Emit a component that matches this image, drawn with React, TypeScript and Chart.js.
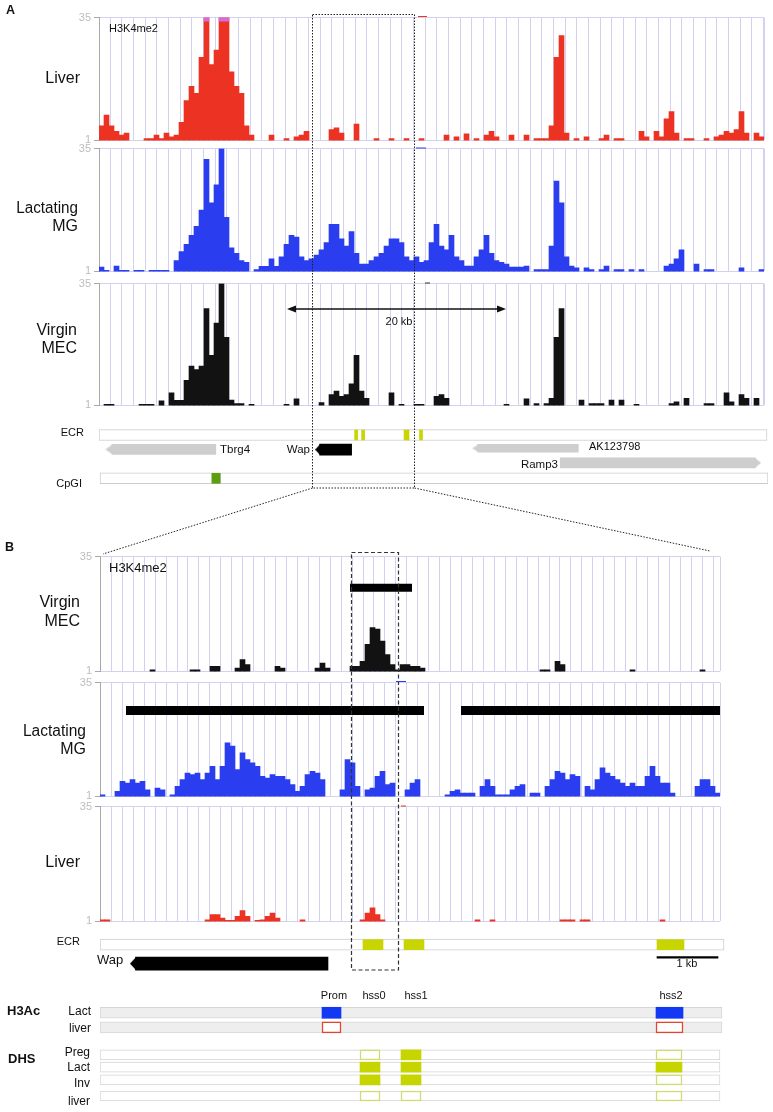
import React, { useEffect, useRef } from 'react';
import { Chart, registerables } from 'chart.js';

Chart.register(...registerables);

type Num = number | null;

const W = 773;
const H = 1112;
const FONT = '"Liberation Sans", Arial, Helvetica, sans-serif';

/* ---------- H3K4me2 signal, panel A (133 genomic bins) ---------- */
const LIVER_A: Num[] = [
  5, 8, 5, 3.5, 2.5, 3, null, null, null, 1.5,
  1.5, 2.5, 1.5, 3, 2, 2.5, 6, 12, 16, 14,
  24, 35, 22, 26, 35, 35, 20, 16, 14, 5,
  2.5, null, null, null, 2.5, null, null, 1.5, null, 2,
  2.5, 3.5, null, null, null, null, 4, 4.5, 3, null,
  null, 5.5, null, null, null, 1.5, null, null, 1.5, null,
  null, 1.5, null, null, 1.5, null, null, null, null, 2.5,
  null, 2, null, 2.8, null, 1.5, null, 2.5, 3.5, 2,
  null, null, 2.5, null, null, 2.5, null, 1.5, 1.5, 1.5,
  5, 24, 30, 3, null, 1.5, null, 2, null, null,
  1.5, 2.5, null, 1.5, 1.5, null, null, null, 3.5, 2,
  null, 3.5, 2, 7, 9, 3, null, 1.5, 1.5, null,
  null, 1.5, null, 2, 2.5, 3.5, 3, 4, 9, 3,
  null, 3, 2,
];
const LACT_A: Num[] = [
  2.2, 1.3, null, 2.5, 1.3, 1.3, null, 1.3, 1.3, null,
  1.3, 1.3, 1.3, 1.3, null, 4, 6.5, 8.5, 11, 13.5,
  18, 32, 20, 25, 35, 16, 7.5, 6, 4, 3.5,
  null, 1.5, 2.4, 2.4, 4.5, 2.4, 5, 8.5, 11, 10.5,
  5, 4, 4.5, 5.5, 7, 9, 14, 14, 10, 8,
  12, 6, 3, 3, 4, 5, 6, 8, 10, 10,
  9, 5, 4, 5, 3.5, 4, 9, 14, 8, 7,
  11, 5, 4, 2.5, 2.5, 5, 7, 11, 6, 4,
  3.5, 3, 2.2, 2.2, 2.2, 2.5, null, 1.5, 1.5, 1.5,
  8, 26, 20, 5, 2.5, 2, null, 2, 1.5, null,
  1.5, 2.5, null, 1.5, 1.5, null, 1.5, null, 1.5, null,
  null, null, null, 2.5, 3, 4.5, 7, null, null, 3,
  null, 1.5, 1.5, null, null, null, null, null, 2, null,
  null, null, 1.5,
];
const VIRGIN_A: Num[] = [
  null, 1.3, 1.3, null, null, null, null, null, 1.3, 1.3,
  1.3, null, 2.3, null, 4.5, 2.4, 2.4, 8, 12, 11,
  12, 28, 15, 24, 35, 20, 2.5, 1.5, 1.5, null,
  1.3, null, null, null, null, null, null, 1.3, null, 2.8,
  null, null, null, null, 1.8, null, 4, 5, 3.5, 4,
  7, 15, 5, 3, null, null, null, null, 4.5, null,
  1.3, null, null, 1.3, 1.3, null, null, 3.5, 4, 3,
  null, null, null, null, null, null, null, null, null, null,
  null, 1.3, null, null, null, 2.8, null, 1.5, null, 1.5,
  3, 20, 28, null, null, null, 2.5, null, 1.5, 1.5,
  1.5, null, 2.5, null, 2.5, null, null, 1.3, null, null,
  null, null, null, null, 1.5, 2, null, 3, null, null,
  null, 1.5, 1.5, null, null, 4.5, 2, null, 4, 3,
  null, 3, null,
];

/* ---------- H3K4me2 signal, panel B (124 genomic bins) ---------- */
const VIRGIN_B: Num[] = [
  null, null, null, null, null, null, null, null, null, null,
  1.5, null, null, null, null, null, null, null, 1.5, 1.5,
  null, null, 2.5, 2.5, null, null, null, 2, 4.5, 3,
  null, null, null, null, null, 2.5, 2, null, null, null,
  null, null, null, 2, 3.5, 2, null, null, null, null,
  2.5, 2.5, 4, 9, 14, 13.5, 10, 6, 3, 1.5,
  3, 3, 2.5, 2.5, 2, null, null, null, null, null,
  null, null, null, null, null, null, null, null, null, null,
  null, null, null, null, null, null, null, null, 1.5, 1.5,
  null, 4, 3, null, null, null, null, null, null, null,
  null, null, null, null, null, null, 1.5, null, null, null,
  null, null, null, null, null, null, null, null, null, null,
  1.5, null, null, null,
];
const LACT_B: Num[] = [
  1.5, null, null, 2.5, 5.5, 5, 6, 5, 5.5, 3,
  null, 3.5, 3, null, 1.5, 4, 6, 8, 7.5, 8,
  6, 8, 10, 6, 10, 17, 16, 9, 14, 12,
  11, 10, 7, 6.5, 7.5, 7, 7, 6, 4.5, 2.5,
  4, 7.5, 8.5, 8, 6, null, null, null, 3, 12,
  11, 4, null, 3, 3.5, 7, 8.5, 4.5, 5, null,
  null, 3, 5, 6, null, null, null, null, null, 1.5,
  2.5, 3, 2, 2, 2, null, 4, 6, 4, 1.5,
  1.5, 1.5, 3, 4, 4.5, null, 2, 2, null, 4,
  6, 8.5, 8, 6, 7.5, 7, null, 4, 3, 6,
  9.5, 8, 7, 6, 5, 4, 5, 4, 4, 7,
  10, 7, 5, 5, 2, null, null, null, null, 4,
  6, 6, 4, 2,
];
const LIVER_B: Num[] = [
  1.5, 1.5, null, null, null, null, null, null, null, null,
  null, null, null, null, null, null, null, null, null, null,
  null, 1.5, 3, 3, 2, 1.3, 1.3, 2.5, 4.2, 2.5,
  null, 1.3, 1.5, 2.5, 3.5, 2, null, null, null, null,
  1.5, null, null, null, null, null, null, null, null, null,
  null, null, 1.5, 3.5, 5, 3, 1.5, null, null, null,
  null, null, null, null, null, null, null, null, null, null,
  null, null, null, null, null, 1.5, null, null, 1.5, null,
  null, null, null, null, null, null, null, null, null, null,
  null, null, 1.5, 1.5, 1.5, null, 1.5, 1.5, null, null,
  null, null, null, null, null, null, null, null, null, null,
  null, null, 1.5, null, null, null, null, null, null, null,
  null, null, null, null,
];

const Y_TICKS = [1, 35];
const PEAKS_VIRGIN_B = [[50, 62.4]];
const PEAKS_LACT_B = [[5.2, 64.8], [72.2, 124]];

/* ---------- annotation, panel A (bins) ---------- */
const ECR_A = [[51.2, 51.8], [52.6, 53.2], [61.1, 62.1], [64.2, 64.8]];
const CPGI_A = [[22.6, 24.3]];
const GENE_NAMES_A = ['Tbrg4', 'Wap', 'AK123798', 'Ramp3'];
const GENE_START_A = [1.3, 43.3, 74.8, 92.4];
const GENE_END_A = [23.4, 50.6, 96.0, 132.6];
const GENE_STRAND_A = ['-', '-', '-', '+'];

/* ---------- annotation, panel B (bins) ---------- */
const ECR_B = [[52.6, 56.6], [60.8, 64.8], [111.4, 116.8]];
const WAP_B = { start: 6.0, end: 45.6, strand: '-' };
const SCALE_1KB_B = [111.4, 123.6];
const H3AC_SITES = ['Prom', 'hss2'];
const H3AC_POS = [[44.4, 48.2], [111.2, 116.6]];
const H3AC_LACT = [true, true];
const H3AC_LIVER = [false, false];
const DHS_SITES = ['hss0', 'hss1', 'hss2'];
const DHS_POS = [[52.0, 56.0], [60.2, 64.2], [111.2, 116.4]];
const DHS_PREG = [false, true, false];
const DHS_LACT = [true, true, true];
const DHS_INV = [true, true, false];
const DHS_LIVER = [false, false, false];

/* ---------- styling / layout ---------- */
const RED = '#ec3323';
const BLUE = '#2a3ef0';
const BLACK = '#121212';
const MAGENTA = '#d86ad8';
const ECR_GREEN = '#c8d500';
const CPG_GREEN = '#5e9c14';
const GENE_GREY = '#cecece';
const GRID_COLOR = '#d2d2f0';
const ROW_BORDER = '#cccccc';
const H3_BLUE = '#1238f4';
const H3_RED = '#e8432c';
const DHS_FILL = '#c6d400';
const DHS_LINE = '#d2db72';

const BIN_PX = 5;
const A_LEFT = 99;
const B_LEFT = 100;
const N_A = 133;
const N_B = 124;
const PAD = 8;

const TRACKS = [
  { id: 'liverA', values: LIVER_A, color: RED, panel: 'A', top: 16, bottom: 142, caps: true },
  { id: 'lactA', values: LACT_A, color: BLUE, panel: 'A', top: 147, bottom: 273 },
  { id: 'virginA', values: VIRGIN_A, color: BLACK, panel: 'A', top: 282, bottom: 407 },
  { id: 'virginB', values: VIRGIN_B, color: BLACK, panel: 'B', top: 555, bottom: 673, peaks: PEAKS_VIRGIN_B, peakLevel: 25.8, peakW: 8 },
  { id: 'lactB', values: LACT_B, color: BLUE, panel: 'B', top: 681, bottom: 798, peaks: PEAKS_LACT_B, peakLevel: 26.7, peakW: 9 },
  { id: 'liverB', values: LIVER_B, color: RED, panel: 'B', top: 805, bottom: 923 },
];

const ANNOT_A = { top: 421, bottom: 491, n: 134 };
const ANNOT_B = { top: 925, bottom: 1110, n: 125 };

type Lab = { t: string; x: number; y: number; s: number; a?: 'l' | 'r' | 'c'; b?: boolean; sx?: number };
const LABELS: Lab[] = [
  { t: 'A', x: 6, y: 10, s: 12.5, b: true },
  { t: 'H3K4me2', x: 109, y: 28, s: 11 },
  { t: 'Liver', x: 80, y: 77.5, s: 16, a: 'r' },
  { t: 'Lactating', x: 78, y: 208, s: 16, a: 'r', sx: 0.95 },
  { t: 'MG', x: 78, y: 226, s: 16, a: 'r' },
  { t: 'Virgin', x: 77, y: 330, s: 16, a: 'r' },
  { t: 'MEC', x: 77, y: 348, s: 16, a: 'r' },
  { t: '20 kb', x: 399, y: 321, s: 11, a: 'c' },
  { t: 'ECR', x: 84, y: 432, s: 11, a: 'r' },
  { t: GENE_NAMES_A[0], x: 220, y: 450, s: 11.5 },
  { t: GENE_NAMES_A[1], x: 310, y: 450, s: 11.5, a: 'r' },
  { t: GENE_NAMES_A[2], x: 589, y: 446, s: 11 },
  { t: GENE_NAMES_A[3], x: 558, y: 465, s: 11.5, a: 'r' },
  { t: 'CpGI', x: 82, y: 482.5, s: 11, a: 'r' },
  { t: 'B', x: 5, y: 547, s: 12.5, b: true },
  { t: 'H3K4me2', x: 109, y: 567, s: 13 },
  { t: 'Virgin', x: 80, y: 602, s: 16, a: 'r' },
  { t: 'MEC', x: 80, y: 621, s: 16, a: 'r' },
  { t: 'Lactating', x: 86, y: 731, s: 16, a: 'r', sx: 0.97 },
  { t: 'MG', x: 86, y: 749, s: 16, a: 'r' },
  { t: 'Liver', x: 80, y: 862, s: 16, a: 'r' },
  { t: 'ECR', x: 80, y: 941, s: 11, a: 'r' },
  { t: 'Wap', x: 97, y: 959, s: 13 },
  { t: '1 kb', x: 687, y: 963, s: 11, a: 'c' },
  { t: H3AC_SITES[0], x: 334, y: 995, s: 11, a: 'c' },
  { t: DHS_SITES[0], x: 374, y: 995, s: 11, a: 'c' },
  { t: DHS_SITES[1], x: 416, y: 995, s: 11, a: 'c' },
  { t: DHS_SITES[2], x: 671, y: 995, s: 11, a: 'c' },
  { t: 'H3Ac', x: 7, y: 1010, s: 13, b: true },
  { t: 'Lact', x: 91, y: 1011, s: 12, a: 'r' },
  { t: 'liver', x: 91, y: 1028, s: 12, a: 'r' },
  { t: 'DHS', x: 8, y: 1058, s: 13, b: true },
  { t: 'Preg', x: 90, y: 1052, s: 12, a: 'r' },
  { t: 'Lact', x: 90, y: 1067, s: 12, a: 'r' },
  { t: 'Inv', x: 90, y: 1083, s: 12, a: 'r' },
  { t: 'liver', x: 90, y: 1101, s: 12, a: 'r' },
];

function gridTicks(first: number, step: number, count: number, end: number) {
  const out: number[] = [];
  for (let k = 0; k < count; k++) out.push(first + k * step);
  out.push(end);
  return out;
}

function toPoints(vals: Num[]) {
  const out: { x: number; y: number }[] = [];
  vals.forEach((v, i) => {
    if (v != null) out.push({ x: i + 0.5, y: v });
  });
  return out;
}

const baseOpts = {
  animation: false,
  responsive: false,
  events: [],
  plugins: { legend: { display: false }, tooltip: { enabled: false } },
};

function makeTrack(canvas: HTMLCanvasElement, t: any) {
  const isA = t.panel === 'A';
  const left = isA ? A_LEFT : B_LEFT;
  const n = isA ? N_A : N_B;
  const grid = isA ? gridTicks(2.2, 2.334, 57, N_A) : gridTicks(2.28, 2.188, 56, N_B);
  const datasets: any[] = [];
  if (t.caps) {
    const caps: any[] = [];
    t.values.forEach((v: Num, i: number) => {
      if (v != null && v >= 35) caps.push({ x: i + 0.5, y: [34, 35] });
    });
    datasets.push({ type: 'bar', data: caps, backgroundColor: MAGENTA, barThickness: BIN_PX, grouped: false, order: 0 });
  }
  (t.peaks || []).forEach((p: number[]) => {
    datasets.push({
      type: 'line',
      data: [{ x: p[0], y: t.peakLevel }, { x: p[1], y: t.peakLevel }],
      borderColor: '#000',
      borderWidth: t.peakW,
      borderCapStyle: 'butt',
      pointRadius: 0,
      fill: false,
      order: 0,
    });
  });
  datasets.push({
    type: 'bar',
    data: toPoints(t.values),
    backgroundColor: t.color,
    borderWidth: 0,
    barThickness: BIN_PX,
    grouped: false,
    order: 1,
  });
  return new Chart(canvas, {
    type: 'bar',
    data: { datasets },
    options: {
      ...baseOpts,
      layout: { padding: { left: left - 30, right: W - (left + n * BIN_PX), top: PAD, bottom: PAD } },
      scales: {
        x: {
          type: 'linear',
          min: 0,
          max: n,
          offset: false,
          ticks: { display: false },
          grid: { color: GRID_COLOR, drawTicks: false, lineWidth: 1, offset: false },
          border: { display: false },
          afterBuildTicks: (ax: any) => {
            ax.ticks = grid.map((v) => ({ value: v }));
          },
          afterFit: (ax: any) => {
            ax.height = 0;
          },
        },
        y: {
          type: 'linear',
          min: 1,
          max: 35,
          beginAtZero: false,
          afterBuildTicks: (ax: any) => {
            ax.ticks = Y_TICKS.map((v) => ({ value: v }));
          },
          ticks: { color: '#bdbdbd', font: { family: FONT, size: 11 }, padding: 3 },
          grid: { color: GRID_COLOR, tickColor: '#a8a8a8', tickLength: 5, lineWidth: 1 },
          border: { color: '#a8a8a8', width: 1 },
          afterFit: (ax: any) => {
            ax.width = 30;
          },
        },
      },
    } as any,
  });
}

function hbar(ranges: number[][], row: number, opts: any) {
  return {
    type: 'bar',
    indexAxis: 'y',
    grouped: false,
    borderSkipped: false,
    borderWidth: 0,
    data: ranges.map((r) => ({ x: [r[0], r[1]], y: row })),
    ...opts,
  };
}

function tipImage(w: number, h: number, color: string, left: boolean) {
  const c = document.createElement('canvas');
  c.width = Math.ceil(w);
  c.height = Math.ceil(h);
  const g = c.getContext('2d');
  if (g) {
    g.fillStyle = color;
    g.beginPath();
    if (left) {
      g.moveTo(0, h / 2);
      g.lineTo(w, 0);
      g.lineTo(w, h);
    } else {
      g.moveTo(w, h / 2);
      g.lineTo(0, 0);
      g.lineTo(0, h);
    }
    g.closePath();
    g.fill();
  }
  return c;
}

function gene(start: number, end: number, strand: string, row: number, h: number, tipPx: number, color: string) {
  const tipU = tipPx / BIN_PX;
  const left = strand === '-';
  const body = left ? [start + tipU - 0.1, end] : [start, end - tipU + 0.1];
  const tipX = left ? start + tipU / 2 : end - tipU / 2;
  return {
    body: hbar([body], row, { backgroundColor: color, barThickness: h, order: 1 }),
    tip: { x: tipX, y: row, img: tipImage(tipPx, h, color, left) },
  };
}

function tipsDataset(tips: any[]) {
  return {
    type: 'scatter',
    data: tips.map((t) => ({ x: t.x, y: t.y })),
    pointStyle: tips.map((t) => t.img),
    pointRadius: 4,
    pointHoverRadius: 4,
    order: 0,
  };
}

function annotChart(canvas: HTMLCanvasElement, left: number, n: number, height: number, datasets: any[]) {
  return new Chart(canvas, {
    type: 'bar',
    data: { datasets },
    options: {
      ...baseOpts,
      layout: { padding: { left, right: W - (left + n * BIN_PX), top: 0, bottom: 0 } },
      scales: {
        x: { type: 'linear', min: 0, max: n, display: false, offset: false, beginAtZero: false },
        y: { type: 'linear', min: 0, max: height, reverse: true, display: false, offset: false, beginAtZero: false },
      },
    } as any,
  });
}

function makeAnnotA(canvas: HTMLCanvasElement) {
  const rowEcr = 10.5;
  const rowCpg = 61;
  const geneRows = [27.3, 27.5, 26, 43];
  const geneH = [10, 11, 8, 10];
  const geneTip = [7, 5, 6, 6];
  const geneColor = [GENE_GREY, '#000000', GENE_GREY, GENE_GREY];
  const ds: any[] = [];
  const tips: any[] = [];
  ds.push(hbar(ECR_A, rowEcr, { backgroundColor: ECR_GREEN, barThickness: 10, order: 0 }));
  ds.push(hbar(CPGI_A, rowCpg, { backgroundColor: CPG_GREEN, barThickness: 10, order: 0 }));
  GENE_NAMES_A.forEach((_, i) => {
    const g = gene(GENE_START_A[i], GENE_END_A[i], GENE_STRAND_A[i], geneRows[i], geneH[i], geneTip[i], geneColor[i]);
    ds.push(g.body);
    tips.push(g.tip);
  });
  ds.push(tipsDataset(tips));
  ds.push(hbar([[0, 133.8]], rowEcr, { backgroundColor: '#ffffff', borderColor: ROW_BORDER, borderWidth: 1, barThickness: 11, order: 5 }));
  ds.push(hbar([[0.2, 134]], rowCpg, { backgroundColor: '#ffffff', borderColor: ROW_BORDER, borderWidth: 1, barThickness: 11, order: 5 }));
  return annotChart(canvas, A_LEFT, ANNOT_A.n, ANNOT_A.bottom - ANNOT_A.top, ds);
}

function boxRow(pos: number[][], flags: boolean[], row: number, color: string, lineColor: string, h: number) {
  return hbar(pos, row, {
    backgroundColor: flags.map((f) => (f ? color : '#ffffff')),
    borderColor: flags.map((f) => (f ? color : lineColor)),
    borderWidth: flags.map((f) => (f ? 0 : 1.5)),
    barThickness: h,
    order: 0,
  });
}

function makeAnnotB(canvas: HTMLCanvasElement) {
  const rows = { ecr: 15.5, scale: 29, wap: 35.5, h3Lact: 87.5, h3Liver: 103, preg: 132, lact: 145, inv: 158.5, liver: 175.5 };
  const ds: any[] = [];
  ds.push(hbar(ECR_B, rows.ecr, { backgroundColor: ECR_GREEN, barThickness: 10, order: 0 }));
  ds.push(hbar([SCALE_1KB_B], rows.scale, { backgroundColor: '#000000', barThickness: 1.5, order: 0 }));
  const w = gene(WAP_B.start, WAP_B.end, WAP_B.strand, rows.wap, 13, 6, '#000000');
  ds.push(w.body);
  ds.push(tipsDataset([w.tip]));
  ds.push(boxRow(H3AC_POS, H3AC_LACT, rows.h3Lact, H3_BLUE, H3_BLUE, 11));
  ds.push(boxRow(H3AC_POS, H3AC_LIVER, rows.h3Liver, H3_RED, H3_RED, 11));
  ds.push(boxRow(DHS_POS, DHS_PREG, rows.preg, DHS_FILL, DHS_LINE, 10));
  ds.push(boxRow(DHS_POS, DHS_LACT, rows.lact, DHS_FILL, DHS_LINE, 10));
  ds.push(boxRow(DHS_POS, DHS_INV, rows.inv, DHS_FILL, DHS_LINE, 10));
  ds.push(boxRow(DHS_POS, DHS_LIVER, rows.liver, DHS_FILL, DHS_LINE, 10));
  ds.push(hbar([[0, 124.8]], rows.ecr, { backgroundColor: '#ffffff', borderColor: ROW_BORDER, borderWidth: 1, barThickness: 11, order: 5 }));
  [rows.h3Lact, rows.h3Liver].forEach((r) =>
    ds.push(hbar([[0, 124.4]], r, { backgroundColor: '#eeeeee', borderColor: '#d6d6d6', borderWidth: 1, barThickness: 11, order: 5 }))
  );
  [rows.preg, rows.lact, rows.inv, rows.liver].forEach((r) =>
    ds.push(hbar([[0, 124]], r, { backgroundColor: '#ffffff', borderColor: '#d4d4d4', borderWidth: 1, barThickness: 10, order: 5 }))
  );
  return annotChart(canvas, B_LEFT, ANNOT_B.n, ANNOT_B.bottom - ANNOT_B.top, ds);
}

export default function App() {
  const trackRefs = useRef<(HTMLCanvasElement | null)[]>([]);
  const annARef = useRef<HTMLCanvasElement | null>(null);
  const annBRef = useRef<HTMLCanvasElement | null>(null);

  useEffect(() => {
    const charts: Chart[] = [];
    TRACKS.forEach((t, i) => {
      const c = trackRefs.current[i];
      if (c) charts.push(makeTrack(c, t));
    });
    if (annARef.current) charts.push(makeAnnotA(annARef.current));
    if (annBRef.current) charts.push(makeAnnotB(annBRef.current));
    return () => charts.forEach((c) => c.destroy());
  }, []);

  const dot = { stroke: '#222', strokeWidth: 1, strokeDasharray: '1.5 1.5', fill: 'none' };

  return (
    <div style={{ position: 'absolute', left: 0, top: 0, width: W, height: H, background: '#fff', overflow: 'hidden', fontFamily: FONT, color: '#111' }}>
      {TRACKS.map((t, i) => (
        <canvas
          key={t.id}
          ref={(el) => {
            trackRefs.current[i] = el;
          }}
          width={W}
          height={t.bottom - t.top + 2 * PAD}
          style={{ position: 'absolute', left: 0, top: t.top - PAD }}
        />
      ))}
      <canvas ref={annARef} width={W} height={ANNOT_A.bottom - ANNOT_A.top} style={{ position: 'absolute', left: 0, top: ANNOT_A.top }} />
      <canvas ref={annBRef} width={W} height={ANNOT_B.bottom - ANNOT_B.top} style={{ position: 'absolute', left: 0, top: ANNOT_B.top }} />
      {LABELS.map((l, i) => {
        const st: any = {
          position: 'absolute',
          top: l.y,
          fontSize: l.s,
          fontWeight: l.b ? 700 : 400,
          lineHeight: 1,
          whiteSpace: 'nowrap',
        };
        let tx = '';
        if (l.a === 'r') {
          st.right = W - l.x;
          tx = 'translateY(-50%)';
          st.transformOrigin = 'right center';
        } else if (l.a === 'c') {
          st.left = l.x;
          tx = 'translate(-50%, -50%)';
        } else {
          st.left = l.x;
          tx = 'translateY(-50%)';
          st.transformOrigin = 'left center';
        }
        if (l.sx) tx += ` scaleX(${l.sx})`;
        st.transform = tx;
        return (
          <div key={i} style={st}>
            {l.t}
          </div>
        );
      })}
      <svg width={W} height={H} style={{ position: 'absolute', left: 0, top: 0, pointerEvents: 'none' }}>
        <rect x={312.5} y={14.5} width={102} height={473.5} {...dot} />
        <line x1={312.5} y1={488} x2={103} y2={554} {...dot} />
        <line x1={414.5} y1={488} x2={710} y2={551} {...dot} />
        <rect x={351.5} y={552.5} width={47} height={417.5} fill="none" stroke="#333" strokeWidth={1.2} strokeDasharray="4 2.5" />
        <line x1={294} y1={309} x2={499} y2={309} stroke="#111" strokeWidth={1.3} />
        <polygon points="287,309 296,305.5 296,312.5" fill="#111" />
        <polygon points="506,309 497,305.5 497,312.5" fill="#111" />
        <line x1={418} y1={16.5} x2={427} y2={16.5} stroke={RED} strokeWidth={1} />
        <line x1={416} y1={148} x2={426} y2={148} stroke={BLUE} strokeWidth={1} />
        <line x1={425} y1={283} x2={430} y2={283} stroke="#333" strokeWidth={1} />
        <line x1={396} y1={681.5} x2={406} y2={681.5} stroke={BLUE} strokeWidth={1} />
        <line x1={401} y1={806} x2={406} y2={806} stroke={RED} strokeWidth={1} />
      </svg>
    </div>
  );
}
